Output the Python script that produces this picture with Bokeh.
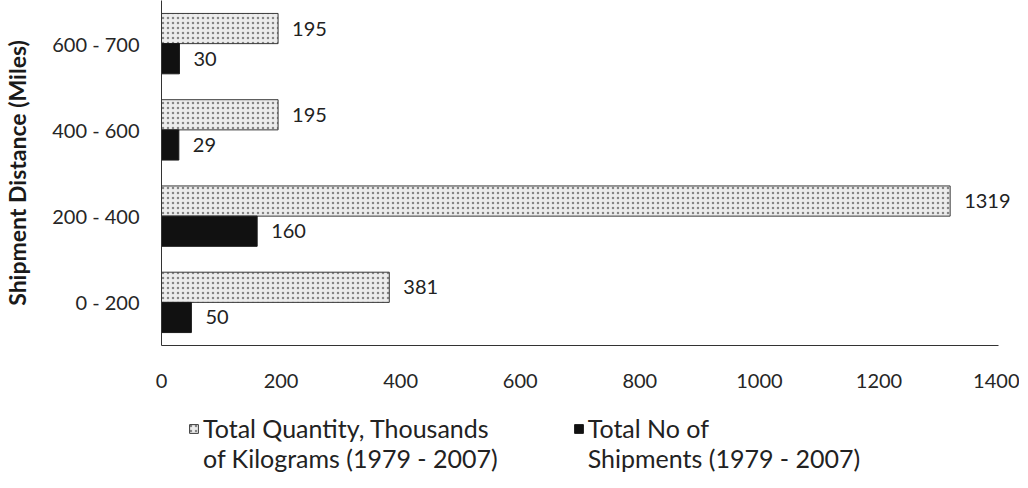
from bokeh.plotting import figure
from bokeh.layouts import column
from bokeh.models import (ColumnDataSource, FactorRange, LabelSet, Legend,
                          LegendItem, Range1d, FixedTicker)
from bokeh.transform import dodge
from bokeh.core.properties import value
from bokeh.embed import file_html
from bokeh.resources import INLINE

categories = ["0 - 200", "200 - 400", "400 - 600", "600 - 700"]
quantity = [381, 1319, 195, 195]
shipments = [50, 160, 29, 30]
x_ticks = [0, 200, 400, 600, 800, 1000, 1200, 1400]
series_names = ["Total Quantity, Thousands\nof Kilograms (1979 - 2007)",
                "Total No of\nShipments (1979 - 2007)"]

FONT = "Lato"
Q_STYLE = dict(fill_color="#ececec", line_color="#3a3a3a", line_width=1,
               hatch_pattern="dot", hatch_color="#5a5a5a", hatch_scale=5,
               hatch_weight=1, hatch_alpha=0.7)
S_STYLE = dict(fill_color="#111111", line_color="#1a1a1a", line_width=1)

src = ColumnDataSource(dict(
    cat=categories, q=quantity, s=shipments,
    ql=[str(v) for v in quantity], sl=[str(v) for v in shipments]))

p = figure(frame_width=858, frame_height=345,
           y_range=FactorRange(factors=categories),
           x_range=Range1d(0, 1435),
           output_backend="svg", toolbar_location=None,
           min_border_left=153, min_border_right=0,
           min_border_top=0, min_border_bottom=44)

p.hbar(y=dodge('cat', 0.175, range=p.y_range), left=0, right='q',
       height=0.35, source=src, **Q_STYLE)
p.hbar(y=dodge('cat', -0.175, range=p.y_range), left=0, right='s',
       height=0.35, source=src, **S_STYLE)

for fld, lab, off in (("q", "ql", 0.175), ("s", "sl", -0.175)):
    ls = LabelSet(x=fld, y=dodge('cat', off, range=p.y_range), text=lab,
                  source=src, x_offset=14, text_baseline="middle",
                  text_font=value(FONT), text_font_size="20px",
                  text_color="#222222")
    p.add_layout(ls)

p.grid.visible = False
p.outline_line_color = None

p.xaxis.ticker = FixedTicker(ticks=x_ticks)
p.xaxis.bounds = (0, 1400)
for ax in (p.xaxis[0], p.yaxis[0]):
    ax.axis_line_color = "#333333"
    ax.axis_line_width = 1
    ax.major_tick_line_color = None
    ax.minor_tick_line_color = None
    ax.major_tick_out = 0
    ax.major_tick_in = 0
    ax.major_label_text_font = FONT
    ax.major_label_text_font_size = "20px"
    ax.major_label_text_color = "#262626"

p.xaxis.major_label_standoff = 28

p.yaxis.major_label_standoff = 22
p.yaxis.axis_label = "Shipment Distance (Miles)"
p.yaxis.axis_label_text_font = FONT
p.yaxis.axis_label_text_font_style = "bold"
p.yaxis.axis_label_text_font_size = "23px"
p.yaxis.axis_label_text_color = "#1a1a1a"
p.yaxis.axis_label_standoff = 18

# legend strip below the chart (its bars lie outside its visible ranges)
lg = figure(width=1011, height=83, output_backend="svg", toolbar_location=None,
            x_axis_type=None, y_axis_type=None, min_border=0,
            x_range=Range1d(-2, -1), y_range=Range1d(-2, -1))
lg.grid.visible = False
lg.outline_line_color = None
lq = lg.hbar(y=0, left=0, right='q', height=0.5, source=src, **Q_STYLE)
lsh = lg.hbar(y=0, left=0, right='s', height=0.5, source=src, **S_STYLE)

# leading empty line keeps the swatch level with the first text line
legend = Legend(items=[LegendItem(label="\n" + series_names[0], renderers=[lq]),
                       LegendItem(label="\n" + series_names[1], renderers=[lsh])],
                orientation="horizontal", location=(27, 0),
                margin=0, padding=0, spacing=75,
                glyph_width=11, glyph_height=11, label_standoff=4,
                label_text_font=FONT, label_text_font_size="25px",
                label_text_line_height=1.1,
                label_text_color="#222222",
                border_line_color=None, background_fill_alpha=0)
lg.add_layout(legend, "center")

open("out.html", "w").write(file_html(column(p, lg, spacing=0), INLINE))
